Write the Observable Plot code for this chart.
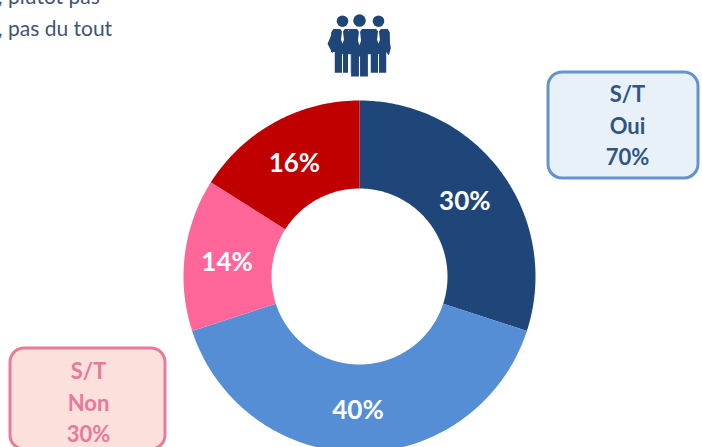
<!DOCTYPE html>
<html><head><meta charset="utf-8">
<script src="https://cdn.jsdelivr.net/npm/d3@7"></script>
<script src="https://cdn.jsdelivr.net/npm/@observablehq/plot@0.6"></script>
<style>html,body{margin:0;padding:0;background:#fff}svg{display:block}</style>
</head><body><div id="chart"></div>
<script>
const names = ["Oui, tout à fait", "Oui, plutôt", "Non, plutôt pas", "Non, pas du tout"];
const shares = [30, 40, 14, 16];
const colors = ["#1f4679", "#558ed5", "#ff6699", "#c00000"];
const legendLines = ["Non, plutôt pas", "Non, pas du tout"];
const boxOui = ["S/T", "Oui", "70%"];
const boxNon = ["S/T", "Non", "30%"];

const W = 702, H = 447, cx = 359, cy = 276, R = 176, r0 = 88;
const font = "Lato, 'Open Sans', sans-serif";
const total = d3.sum(shares);
const turn = d => d / total * 2 * Math.PI;
const polar = (a, r) => ({x: cx + r * Math.sin(a), y: cy - r * Math.cos(a)});

let acc = 0;
const slices = shares.map((v, i) => {
  const a0 = turn(acc), a1 = turn(acc + v);
  acc += v;
  return {name: names[i], v, a0, a1, mid: (a0 + a1) / 2};
});
const ring = slices.flatMap(s => {
  const n = Math.ceil((s.a1 - s.a0) * 90);
  const outer = d3.range(n + 1).map(k => polar(s.a0 + (s.a1 - s.a0) * k / n, R));
  const inner = d3.range(n + 1).map(k => polar(s.a1 - (s.a1 - s.a0) * k / n, r0));
  return [...outer, ...inner].map(p => ({...p, name: s.name}));
});
const labels = slices.map(s => ({...polar(s.mid, 132), t: s.v + "%"}));

function icon() {
  const g = d3.create("svg:g").attr("fill", "#1f4679");
  const fig = (x, top, s, side) => {
    const f = g.append("g").attr("transform", `translate(${x},${top}) scale(${s})`);
    f.append("circle").attr("cx", 0).attr("cy", 5).attr("r", 5.6);
    f.append("path").attr("d", "M-9 12.5 L9 12.5 L11 16 L11 35 L7.5 35 L7.5 55 L0.5 55 L0.5 37 L-0.5 37 L-0.5 55 L-7.5 55 L-7.5 35 L-11 35 L-11 16 Z");
    f.append("path").attr("fill", "#fff").attr("d", "M-2.2 12.5 L2.2 12.5 L0.5 15 L1.4 23 L0 27 L-1.4 23 L-0.5 15 Z");
    if (side) f.append("path").attr("d", side);
  };
  fig(342.5, 16, 1.03, "M-9 14 L-14.5 27 L-10 36 L-8 33 L-10.5 27 L-7 20 Z");
  fig(378.5, 16, 1.03, "M9 14 L12 31 L10 38 L8 36 L8 20 Z");
  g.append("path").attr("fill", "#fff").attr("d", "M348 30 h2 v46 h-2z M368 30 h2 v46 h-2z");
  fig(359.5, 15, 1.12);
  return g.node();
}

const box = (x1, x2, y1, y2, fill, stroke) =>
  Plot.rect([0], {x1: () => x1, x2: () => x2, y1: () => y1, y2: () => y2, fill, stroke, strokeWidth: 3, rx: 14});
const boxText = (lines, x, ys, fill) =>
  Plot.text(lines, {x: () => x, y: (d, i) => ys[i], text: d => d, fill, fontSize: 22, fontWeight: 700, fontFamily: font, lineAnchor: "middle"});

const plot = Plot.plot({
  width: W, height: H, margin: 0,
  x: {domain: [0, W], range: [0, W], axis: null},
  y: {domain: [0, H], range: [0, H], axis: null},
  color: {domain: names, range: colors},
  style: {background: "#fff"},
  marks: [
    Plot.line(ring, {x: "x", y: "y", z: "name", fill: "name", stroke: null}),
    Plot.text(labels, {x: "x", y: "y", dx: -1.5, dy: 2.5, text: "t", fill: "#fff", fontSize: 26, fontWeight: 700, fontFamily: font, lineAnchor: "middle"}),
    box(548, 702 - 4, 72, 178, "#e9f1f8", "#6593cd"),
    boxText(boxOui, 627, [94, 126, 157], "#2f5583"),
    box(10, 165, 348, 449, "#fce0dc", "#ea7a9c"),
    boxText(boxNon, 88, [371, 403, 434], "#e8799a"),
    Plot.text(legendLines, {x: () => -42, y: (d, i) => [-3, 29][i], text: d => d, fill: "#3f5573", fontSize: 21, fontFamily: font, textAnchor: "start", lineAnchor: "middle"}),
    icon
  ]
});
document.getElementById("chart").append(plot);
</script></body></html>
